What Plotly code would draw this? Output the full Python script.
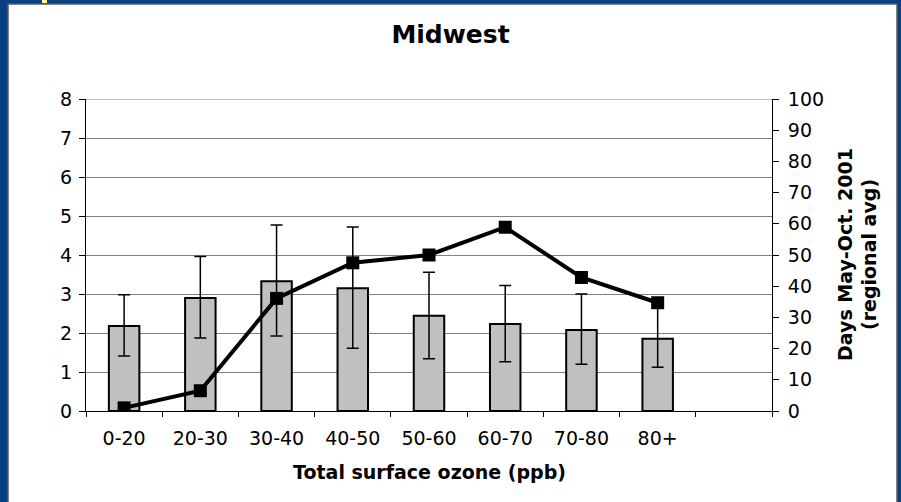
import plotly.graph_objects as go

# ozone bins (last slot is an empty category, as in the original sheet)
categories = ['0-20', '20-30', '30-40', '40-50', '50-60', '60-70', '70-80', '80+', ' ']

# bars: left axis
bar_values = [2.18, 2.9, 3.33, 3.15, 2.44, 2.23, 2.08, 1.85]
err_upper = [2.98, 3.96, 4.77, 4.72, 3.56, 3.22, 3.0, 2.66]
err_lower = [1.41, 1.87, 1.92, 1.61, 1.34, 1.26, 1.2, 1.12]

# line: days May-Oct 2001, right axis
days = [1.0, 6.5, 36.1, 47.5, 50.0, 58.9, 42.8, 34.7]

left_ticks = list(range(0, 9))
right_ticks = list(range(0, 101, 10))

FONT = 'DejaVu Sans'
BLUE = '#0b4080'

plus = [u - v for u, v in zip(err_upper, bar_values)]
minus = [v - l for v, l in zip(bar_values, err_lower)]

fig = go.Figure()
fig.add_trace(go.Bar(x=categories[:len(bar_values)], y=bar_values,
                     marker=dict(color='#c0c0c0', line=dict(color='black', width=2)),
                     error_y=dict(type='data', symmetric=False, array=plus, arrayminus=minus,
                                  color='black', thickness=1.5, width=6),
                     showlegend=False))
fig.add_trace(go.Scatter(x=categories[:len(days)], y=days, yaxis='y2', mode='lines+markers',
                         line=dict(color='black', width=4),
                         marker=dict(symbol='square', size=13, color='black'),
                         showlegend=False))

fig.update_layout(
    width=901, height=502,
    margin=dict(l=86, r=129, t=99, b=91),
    paper_bgcolor=BLUE, plot_bgcolor='white',
    font=dict(family=FONT, size=19, color='black'),
    bargap=0.6,
    title=dict(text='<b>Midwest</b>', x=0.5, xanchor='center', y=1 - 34 / 502, yanchor='middle',
               font=dict(family=FONT, size=25, color='black')),
    xaxis=dict(type='category', categoryorder='array', categoryarray=categories,
               range=[-0.5, len(categories) - 0.5],
               showline=True, linecolor='black', linewidth=1,
               ticks='outside', tickson='boundaries', ticklen=5, tickcolor='black',
               showgrid=False, ticklabelstandoff=10),
    yaxis=dict(range=[0, 8], tickvals=left_ticks, showline=True, linecolor='black', linewidth=1,
               ticks='outside', ticklen=6, tickcolor='black',
               showgrid=True, gridcolor='#808080', gridwidth=1, zeroline=False,
               ticklabelstandoff=3),
    yaxis2=dict(range=[0, 100], tickvals=right_ticks, overlaying='y', side='right',
                showline=True, linecolor='black', linewidth=1,
                ticks='outside', ticklen=6, tickcolor='black',
                showgrid=False, zeroline=False, ticklabelstandoff=5),
    yaxis3=dict(range=[0, 100], tickvals=right_ticks, overlaying='y', side='right',
                showline=False, ticks='inside', ticklen=6, tickcolor='black',
                showticklabels=False, showgrid=False, zeroline=False),
    shapes=[
        # white slide panel with grey edge
        dict(type='rect', xref='paper', yref='paper', layer='below',
             x0=(8 - 86) / 686, x1=(897 - 86) / 686, y0=(411 - 510) / 312, y1=(411 - 4) / 312,
             fillcolor='white', line=dict(color='#5a5a5a', width=1.5)),
        # small yellow tab on the top edge
        dict(type='rect', xref='paper', yref='paper', layer='above',
             x0=(42 - 86) / 686, x1=(47 - 86) / 686, y0=(411 - 3) / 312, y1=(411 + 1) / 312,
             fillcolor='#ffff99', line=dict(width=0)),
        # top gridline (plotly drops the one at the range end)
        dict(type='line', xref='paper', yref='y', layer='below', x0=0, x1=1,
             y0=left_ticks[-1], y1=left_ticks[-1], line=dict(color='#808080', width=1)),
    ],
    annotations=[
        dict(text='<b>Total surface ozone (ppb)</b>', xref='paper', yref='paper',
             x=0.5, y=(411 - 472) / 312, xanchor='center', yanchor='middle', showarrow=False,
             font=dict(family=FONT, size=19)),
        dict(text='<b>Days May-Oct. 2001</b>', xref='paper', yref='paper',
             x=(845 - 86) / 686, y=0.5, xanchor='center', yanchor='middle', showarrow=False,
             textangle=-90, font=dict(family=FONT, size=19)),
        dict(text='<b>(regional avg)</b>', xref='paper', yref='paper',
             x=(869 - 86) / 686, y=0.5, xanchor='center', yanchor='middle', showarrow=False,
             textangle=-90, font=dict(family=FONT, size=19)),
    ],
)

fig.write_html('out.html', config={'displayModeBar': False},
               post_script="document.body.style.margin='0';")
